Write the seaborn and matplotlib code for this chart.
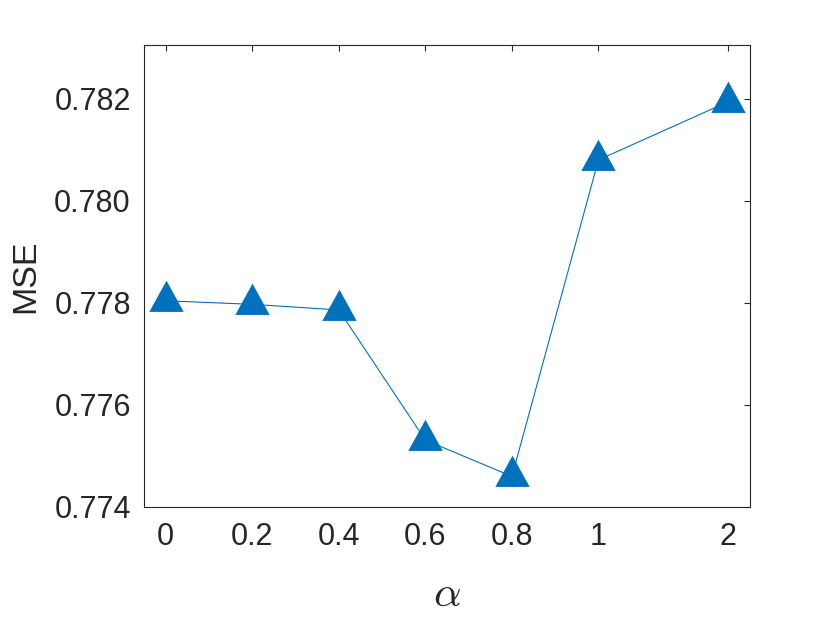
import matplotlib
matplotlib.use("Agg")
import matplotlib.pyplot as plt
import seaborn as sns
import pandas as pd

# --- datos ---
alpha_labels = ["0", "0.2", "0.4", "0.6", "0.8", "1", "2"]
alpha_pos = [0.0, 0.2, 0.4, 0.6, 0.8, 1.0, 1.3]   # el 2 va algo más separado
mse = [0.77804, 0.77797, 0.77786, 0.77531, 0.77460, 0.78080, 0.78194]
y_ticks = [0.774, 0.776, 0.778, 0.780, 0.782]

df = pd.DataFrame({"pos": alpha_pos, "mse": mse})

sns.set_style("white")
plt.rcParams["font.family"] = ["Liberation Sans", "DejaVu Sans"]
plt.rcParams["mathtext.fontset"] = "cm"

color = "#0072BD"
dark = "#262626"
# triangulo con el centroide en el punto (como en MATLAB)
tri = [(0, 1), (-0.825, -0.5), (0.825, -0.5), (0, 1)]

fig = plt.figure(figsize=(8.3, 6.21), dpi=100)
ax = fig.add_axes([0.1735, 0.1836, 0.7301, 0.7439])

sns.lineplot(data=df, x="pos", y="mse", ax=ax, sort=False, color=color,
             linewidth=0.8, marker=tri, markersize=30, markeredgewidth=0,
             markerfacecolor=color)

ax.set_xlim(-0.05, 1.35)
ax.set_ylim(0.774, 0.78305)
ax.set_xticks(alpha_pos)
ax.set_xticklabels(alpha_labels)
ax.set_yticks(y_ticks)
ax.set_yticklabels([f"{v:.3f}" for v in y_ticks])

for s in ax.spines.values():
    s.set_visible(True)
    s.set_color(dark)
    s.set_linewidth(0.8)

ax.tick_params(axis="both", direction="in", length=4.5, width=0.8, color=dark,
               labelsize=22, labelcolor=dark, top=True, right=True)
ax.tick_params(axis="x", pad=10.5)
ax.tick_params(axis="y", pad=9.5)

ax.set_xlabel(r"$\alpha$", fontsize=31, color=dark, labelpad=17)
ax.set_ylabel("MSE", fontsize=24.5, color=dark, labelpad=9)

plt.savefig("out.png", dpi=100)
plt.close()
